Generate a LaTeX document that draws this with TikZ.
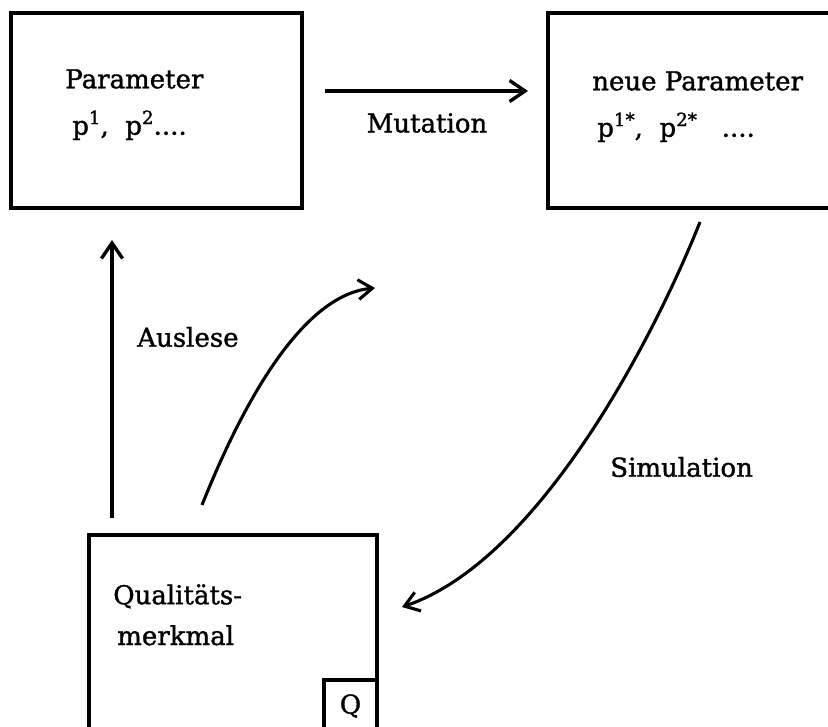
\documentclass[tikz,border=0pt]{standalone}
\usepackage{fontspec}
\setmainfont{DejaVu Serif}
\newfontfamily\schrift[FakeBold=1.3]{DejaVu Serif}
\newcommand{\hoch}[1]{\raisebox{7.5pt}{\fontsize{13}{13}\selectfont #1}}
\usetikzlibrary{arrows.meta}
\begin{document}
\begin{tikzpicture}[x=0.025cm, y=-0.025cm,
    every node/.style={font=\schrift\fontsize{18.5}{33}\selectfont},
    box/.style={draw, line width=2.6pt, inner sep=0pt},
    lbl/.style={inner sep=0pt, align=left},
    arr/.style={line width=2.4pt, -{Straight Barb[length=11pt,width=15pt]}},
    curvarr/.style={line width=2.2pt, -{Straight Barb[length=10pt,width=14pt]}}]
        \clip (0,0) rectangle (828,726);

        % Parameter
        \node[box, minimum width=7.275cm, minimum height=4.875cm] (par) at (156.5,110.5) {};
        \node[lbl, anchor=north west] (partxt) at (65,69)
            {Parameter\\\hspace*{0.175cm}p\hoch{1}, \ p\hoch{2}....};

        % neue Parameter (right edge runs off the page)
        \node[box, minimum width=7.55cm, minimum height=4.875cm] (neu) at (699,110.5) {};
        \node[lbl, anchor=north west] (neutxt) at (592,71)
            {neue Parameter\\\hspace*{0.125cm}p\hoch{1*}, \ p\hoch{2*} \ \ ....};

        % Qualitaetsmerkmal
        \node[box, minimum width=7.2cm, minimum height=4.925cm] (qual) at (233,633.5) {};
        \node[lbl, anchor=north west, font=\schrift\fontsize{18.5}{29}\selectfont] (qualtxt) at (113,584)
            {Qualitäts-\\\hspace*{0.1cm}merkmal};
        \node[box, minimum width=1.325cm, minimum height=1.3cm] (qbox) at (350.5,706) {Q};

        % Mutation
        \coordinate (mutA) at (325,91);
        \coordinate (mutB) at (528,91);
        \draw[arr] (mutA) -- (mutB);
        \node (mut) at (427,123) {Mutation};

        % Auslese
        \coordinate (ausA) at (112,518);
        \coordinate (ausB) at (112,240);
        \draw[arr] (ausA) -- (ausB);
        \node[anchor=west, inner sep=0pt] (aus) at (137,337) {Auslese};

        % Rueckkopplung
        \coordinate (rkA) at (202,505);
        \coordinate (rkB) at (375,288);
        \draw[curvarr] (rkA) .. controls (240,410) and (300,295) .. (rkB);

        % Simulation
        \coordinate (simA) at (700,222);
        \coordinate (simB) at (402,607);
        \draw[curvarr] (simA) .. controls (655,335) and (540,560) .. (simB);
        \node[anchor=west, inner sep=0pt] (sim) at (610,467) {Simulation};

\end{tikzpicture}
\end{document}
